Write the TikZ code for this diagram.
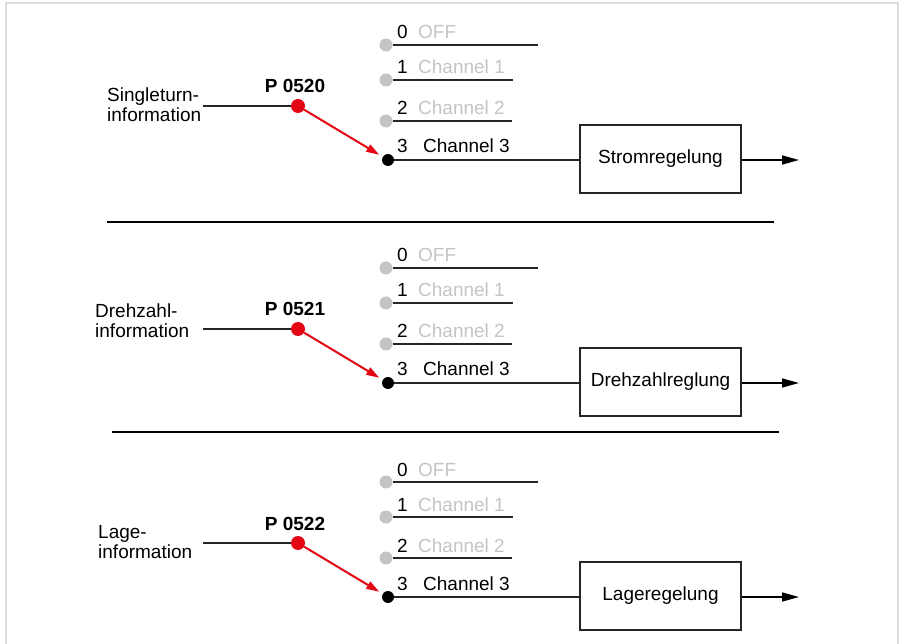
\documentclass[tikz,border=0pt]{standalone}
\usepackage{fontspec}
\setmainfont{Liberation Sans}
\usetikzlibrary{positioning, arrows.meta, calc}

\definecolor{selred}{HTML}{E30613}
\definecolor{offgray}{HTML}{C4C4C4}
\definecolor{framegray}{HTML}{DCDCDC}

\begin{document}
\begin{tikzpicture}[
		x=1pt, y=-1pt,
		>=Stealth,
		% Text styles
		txt/.style={font=\fontsize{19}{20}\selectfont, inner sep=0pt},
		srclabel/.style={txt, align=left, anchor=west},
		parlabel/.style={txt, font=\fontsize{19}{20}\selectfont\bfseries, anchor=base},
		chnum/.style={txt, anchor=base west},
		chtext/.style={txt, anchor=base west, text=#1},
		% Switch contacts
		seldot/.style={circle, fill=selred, minimum size=14pt, inner sep=0pt},
		chdot/.style={circle, fill=#1, minimum size=13pt, inner sep=0pt},
		% Controller blocks
		ctlbox/.style={rectangle, draw=black!85, line width=1.4pt,
				minimum width=161pt, minimum height=68pt, txt},
		% Lines and arrows
		wire/.style={draw=black!85, line width=1.4pt},
		switch/.style={-{Triangle[length=13pt, width=8pt]}, draw=selred, line width=2pt, shorten >=4pt},
		outarrow/.style={-{Triangle[length=17pt, width=9pt]}, draw=black, line width=1.6pt},
		sepline/.style={draw=black, line width=1.8pt}
	]

	\useasboundingbox (0,0) rectangle (903,644);

	% ==========================================
	% 0. FRAME (open at the bottom)
	% ==========================================
	\draw[framegray, line width=1.5pt] (6,644) -- (6,3) -- (898,3) -- (898,644);

	% ==========================================
	% 1. THE THREE SELECTOR SECTIONS
	% ==========================================
	% \yb = y of channel 3, \lx/\ly = position of the source label.

	\foreach \s/\yb/\lx/\ly/\src/\pname/\ctl in {
			1/160/107/105/Singleturn-/P 0520/Stromregelung,
			2/383/95/321/Drehzahl-/P 0521/Drehzahlreglung,
			3/597/98/542/Lage-/P 0522/Lageregelung}
		{
			% Source and parameter switch
			\node[srclabel] (src\s) at (\lx, \ly) {\src\\information};
			\coordinate (in\s) at (203, \yb-54);
			\node[seldot] (sel\s) at (298, \yb-54) {};
			\node[parlabel] (par\s) at (295, \yb-67) {\pname};
			\draw[wire] (in\s) -- (sel\s);

			% Inactive channels 0..2
			\foreach \k/\dy/\len/\chname in {0/115/538/OFF, 1/80/513/Channel 1, 2/39/512/Channel 2}
				{
					\node[chdot=offgray] (ch\s\k) at (386, \yb-\dy) {};
					\coordinate (end\s\k) at (\len, \yb-\dy);
					\draw[wire] (ch\s\k.east) -- (end\s\k);
					\node[chnum] (num\s\k) at (397, \yb-\dy-6) {\k};
					\node[chtext=offgray] (lab\s\k) at (418, \yb-\dy-6) {\chname};
				}

			% Active channel 3
			\node[chdot=black, minimum size=12pt] (ch\s3) at (388, \yb) {};
			\node[chnum] (num\s3) at (397, \yb-7) {3};
			\node[chtext=black] (lab\s3) at (423, \yb-7) {Channel 3};

			% Controller block and output
			\node[ctlbox] (ctl\s) at (660.5, \yb-1) {\ctl};
			\coordinate (out\s) at (799, \yb);
			\draw[wire] (ch\s3.east) -- (ch\s3.east -| ctl\s.west);
			\draw[outarrow] (ctl\s.east |- out\s) -- (out\s);

			% Switch position
			\draw[switch] (sel\s) -- (ch\s3);
		}

	% ==========================================
	% 2. SEPARATORS
	% ==========================================
	\coordinate (sepA-l) at (107,222);
	\coordinate (sepA-r) at (774,222);
	\coordinate (sepB-l) at (112,432);
	\coordinate (sepB-r) at (779,432);
	\draw[sepline] (sepA-l) -- (sepA-r);
	\draw[sepline] (sepB-l) -- (sepB-r);

\end{tikzpicture}
\end{document}
